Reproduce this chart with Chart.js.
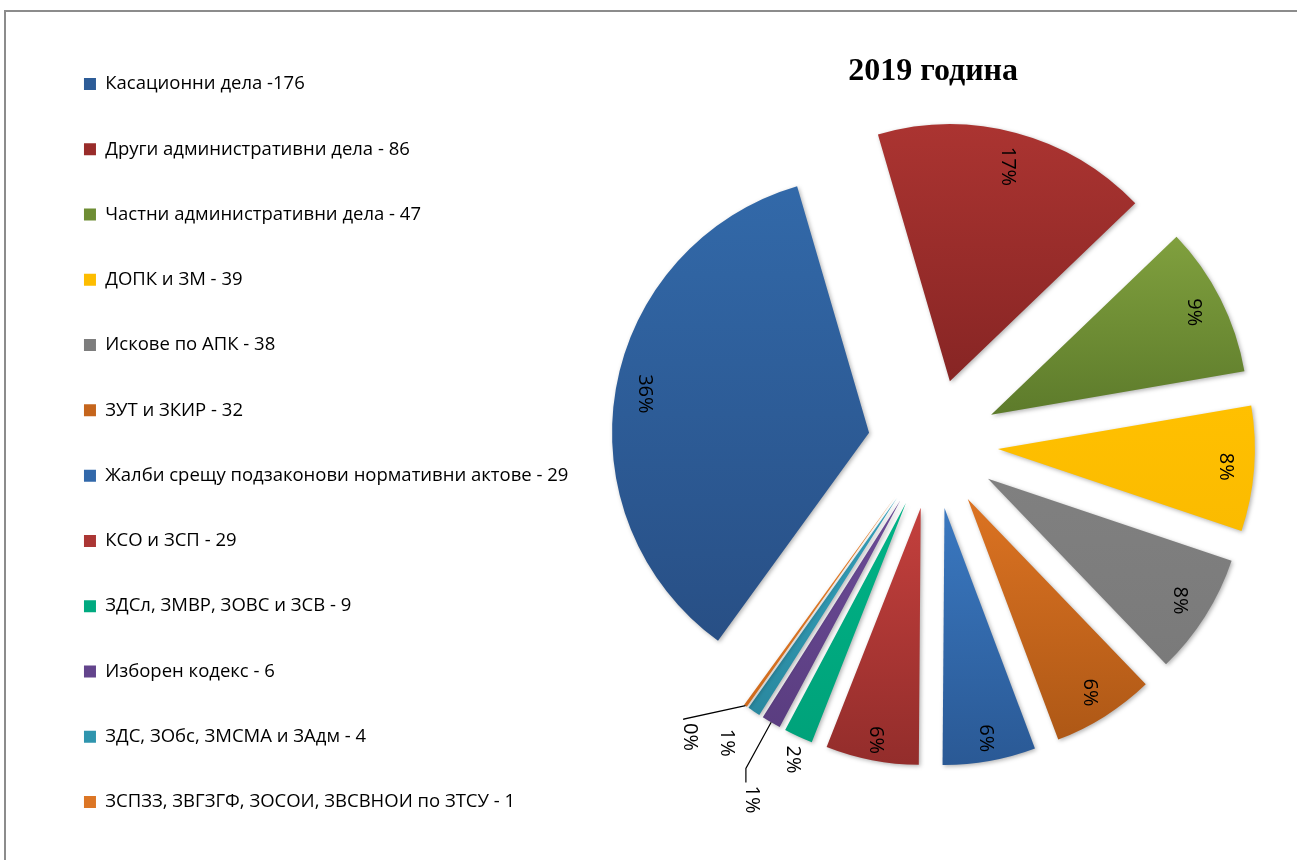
<!DOCTYPE html>
<html>
<head>
<meta charset="utf-8">
<script src="https://cdn.jsdelivr.net/npm/chart.js@4.4.0/dist/chart.umd.min.js"></script>
<style>
  html, body { margin: 0; padding: 0; background: #fff; overflow: hidden; }
  #wrap { position: relative; width: 1297px; height: 860px; }
  #frame { position: absolute; left: 4px; top: 10px; width: 1400px; height: 900px;
           border-left: 2px solid #8c8c8c; border-top: 2px solid #8c8c8c; }
  #pieChart { position: absolute; left: 0; top: 0; }
</style>
</head>
<body>
<div id="wrap">
  <div id="frame"></div>
  <canvas id="pieChart" width="1297" height="860"></canvas>
</div>
<script>
const chartTitle = '2019 година';

const categories = [
  'Касационни дела -176',
  'Други административни дела - 86',
  'Частни административни дела - 47',
  'ДОПК и ЗМ - 39',
  'Искове по АПК - 38',
  'ЗУТ и ЗКИР - 32',
  'Жалби срещу подзаконови нормативни актове - 29',
  'КСО и ЗСП - 29',
  'ЗДСл, ЗМВР, ЗОВС и ЗСВ - 9',
  'Изборен кодекс - 6',
  'ЗДС, ЗОбс, ЗМСМА и ЗАдм - 4',
  'ЗСПЗЗ, ЗВГЗГФ, ЗОСОИ, ЗВСВНОИ по ЗТСУ - 1'
];

const caseCounts = [176, 86, 47, 39, 38, 32, 29, 29, 9, 6, 4, 1];

// slice colours: [top of gradient, bottom of gradient]
const sliceColors = [
  ['#3269A9', '#284F85'],
  ['#AB3431', '#872524'],
  ['#80A03E', '#5D7B2B'],
  ['#FFC000', '#FBBB00'],
  ['#808080', '#7A7A7A'],
  ['#DC7322', '#AE5816'],
  ['#3A78C0', '#2A5995'],
  ['#C4403D', '#932D2B'],
  ['#00B386', '#00A27A'],
  ['#6C4C98', '#5A3D80'],
  ['#35A3BE', '#2A889F'],
  ['#E8822E', '#D06A1C']
];

// where each percent label sits: radius factor, angle shift (deg), leader elbow drop
const labelPlace = [
  { r: 0.885 }, { r: 0.865 }, { r: 0.885 }, { r: 0.89 }, { r: 0.885 }, { r: 0.89 },
  { r: 0.91 }, { r: 0.92 },
  { r: 1.09, shift: -1 },
  { r: 1.30, shift: -3.8, leader: 17 },
  { r: 1.16, shift: 1 },
  { r: 1.23, shift: 4.9, leader: 4 }
];

const EXPLODE = 65;
const RADIUS = 257;

function mixHex(a, b) {
  const pa = parseInt(a.slice(1), 16), pb = parseInt(b.slice(1), 16);
  const r = (((pa >> 16) & 255) + ((pb >> 16) & 255)) >> 1;
  const g = (((pa >> 8) & 255) + ((pb >> 8) & 255)) >> 1;
  const bl = ((pa & 255) + (pb & 255)) >> 1;
  return `rgb(${r}, ${g}, ${bl})`;
}

// percentages rounded so they add up to 100 (largest remainder)
function percentLabels(values) {
  const total = values.reduce((s, v) => s + v, 0);
  const raw = values.map(v => v / total * 100);
  const out = raw.map(Math.floor);
  let left = 100 - out.reduce((s, v) => s + v, 0);
  const order = raw.map((v, i) => i).sort((a, b) => (raw[b] - Math.floor(raw[b])) - (raw[a] - Math.floor(raw[a])));
  for (let k = 0; k < left; k++) out[order[k]] += 1;
  return out.map(p => p + '%');
}

const explodePlugin = {
  id: 'explodedSlices',
  beforeDatasetDraw(chart, args) {
    const ctx = chart.ctx;
    args.meta.data.forEach((arc, i) => {
      const mid = (arc.startAngle + arc.endAngle) / 2;
      // vertical extent of the slice for its gradient
      let yMin = arc.y, yMax = arc.y;
      for (let k = 0; k <= 24; k++) {
        const a = arc.startAngle + (arc.endAngle - arc.startAngle) * k / 24;
        const y = arc.y + Math.sin(a) * arc.outerRadius;
        yMin = Math.min(yMin, y);
        yMax = Math.max(yMax, y);
      }
      const grad = ctx.createLinearGradient(0, yMin, 0, yMax);
      grad.addColorStop(0, sliceColors[i][0]);
      grad.addColorStop(1, sliceColors[i][1]);

      const saved = arc.options;
      arc.options = Object.assign({}, saved, { backgroundColor: grad, borderWidth: 0 });
      ctx.save();
      ctx.shadowColor = 'rgba(0, 0, 0, 0.3)';
      ctx.shadowBlur = 4;
      ctx.shadowOffsetX = 1.5;
      ctx.shadowOffsetY = 1.5;
      ctx.translate(Math.cos(mid) * EXPLODE, Math.sin(mid) * EXPLODE);
      arc.draw(ctx);
      ctx.restore();
      arc.options = saved;
    });
    return false;
  },
  afterDatasetsDraw(chart) {
    const ctx = chart.ctx;
    const meta = chart.getDatasetMeta(0);
    const texts = percentLabels(caseCounts);
    ctx.save();
    ctx.font = '20px "Open Sans", "Noto Sans", sans-serif';
    ctx.fillStyle = '#000';
    ctx.strokeStyle = '#000';
    ctx.lineWidth = 1.2;
    ctx.textAlign = 'center';
    ctx.textBaseline = 'middle';
    meta.data.forEach((arc, i) => {
      const place = labelPlace[i];
      const mid = (arc.startAngle + arc.endAngle) / 2;
      const cx = arc.x + Math.cos(mid) * EXPLODE;
      const cy = arc.y + Math.sin(mid) * EXPLODE;
      const a = mid + (place.shift || 0) * Math.PI / 180;
      const px = cx + Math.cos(a) * arc.outerRadius * place.r;
      const py = cy + Math.sin(a) * arc.outerRadius * place.r;
      if (place.leader) {
        const tw = ctx.measureText(texts[i]).width;
        const top = py - tw / 2;
        ctx.beginPath();
        ctx.moveTo(cx + Math.cos(mid) * arc.outerRadius, cy + Math.sin(mid) * arc.outerRadius);
        ctx.lineTo(px - 6, top - place.leader);
        ctx.lineTo(px - 6, top - 3);
        ctx.stroke();
      }
      ctx.save();
      ctx.translate(px, py);
      ctx.rotate(Math.PI / 2);
      ctx.fillText(texts[i], 0, 0);
      ctx.restore();
    });
    ctx.restore();
  }
};

const ctx = document.getElementById('pieChart').getContext('2d');
new Chart(ctx, {
  type: 'pie',
  data: {
    labels: categories,
    datasets: [{
      data: caseCounts,
      backgroundColor: sliceColors.map(c => mixHex(c[0], c[1])),
      borderWidth: 0,
      radius: RADIUS,
      clip: false
    }]
  },
  options: {
    responsive: false,
    animation: false,
    rotation: 216,
    layout: {
      padding: { left: 37.2, top: 28, right: 9.2, bottom: 0 }
    },
    plugins: {
      title: {
        display: true,
        text: chartTitle,
        fullSize: false,
        color: '#000',
        font: { family: '"Liberation Serif", "Times New Roman", serif', size: 32, weight: 'bold' },
        padding: { top: 25, bottom: -64 }
      },
      legend: {
        display: true,
        position: 'left',
        align: 'start',
        labels: {
          color: '#000',
          font: { family: '"Open Sans", "Noto Sans", sans-serif', size: 18.5 },
          boxWidth: 12,
          boxHeight: 12,
          padding: 46.77
        }
      },
      tooltip: { enabled: false }
    }
  },
  plugins: [explodePlugin]
});
</script>
</body>
</html>
